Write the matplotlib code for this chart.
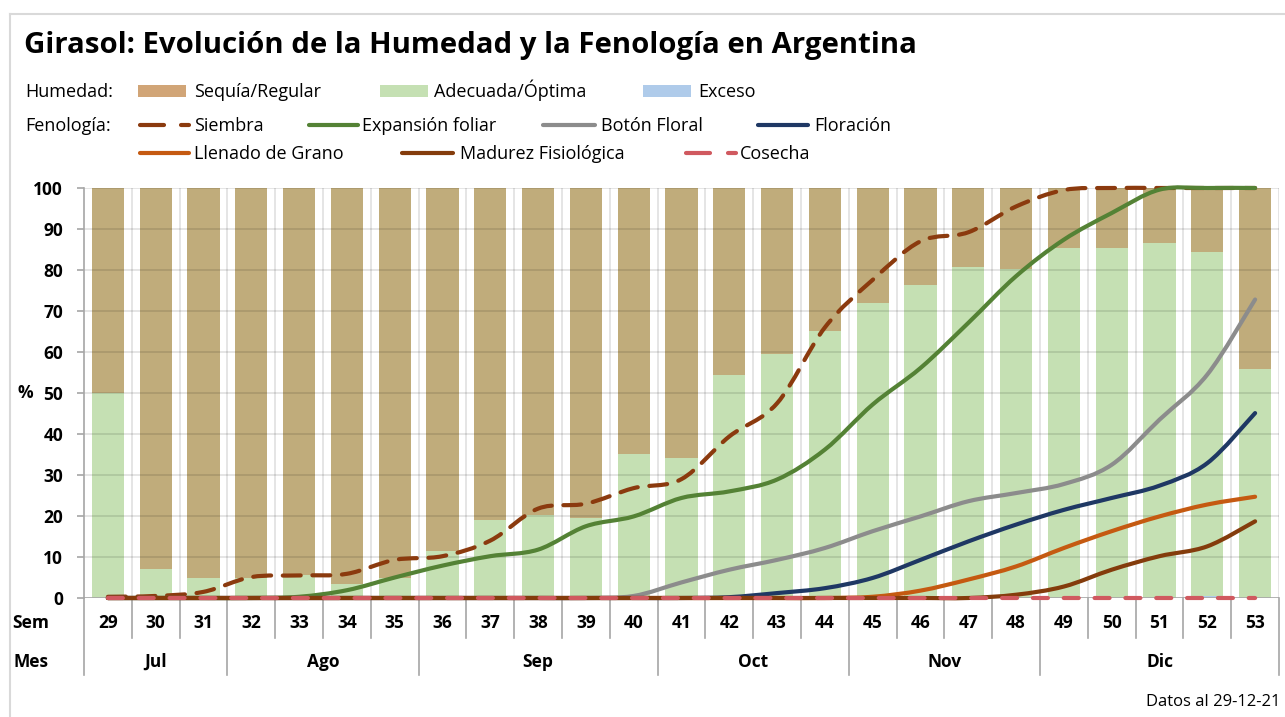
import matplotlib
matplotlib.use("Agg")
import matplotlib.pyplot as plt
from matplotlib.path import Path
from matplotlib.patches import PathPatch, Rectangle
from matplotlib.lines import Line2D
import numpy as np

# ---------------- DATA ----------------
weeks = [29, 30, 31, 32, 33, 34, 35, 36, 37, 38, 39, 40, 41, 42, 43, 44, 45, 46, 47, 48, 49, 50, 51, 52, 53]
months = ["Jul", "Ago", "Sep", "Oct", "Nov", "Dic"]
month_weeks = [3, 4, 5, 4, 4, 5]

exceso = [0, 0, 0, 0, 0, 0, 0, 0, 0, 0, 0, 0, 0, 0, 0, 0, 0, 0, 0, 0, 0, 0, 0, 0.4, 0]
adecuada = [50, 7, 5, 5, 5.7, 3.4, 4.8, 11.4, 19.1, 20.3, 19.5, 35.2, 34.1, 54.5, 59.5, 65.2,
            72, 76.3, 80.7, 80.2, 85.3, 85.3, 86.7, 84.0, 55.9]
sequia = [100 - a - e for a, e in zip(adecuada, exceso)]

siembra = [0.3, 0.5, 1.5, 5.1, 5.5, 5.9, 9.3, 10.2, 14.0, 21.8, 23.0, 26.8, 29.0, 39.4, 47.5, 66.0,
           77.6, 87.0, 89.2, 95.5, 99.5, 100, 100, 100, 100]
expansion = [0, 0, 0, 0, 0.3, 1.9, 5.0, 7.9, 10.2, 11.8, 17.5, 19.9, 24.4, 26.0, 28.9, 36.2,
             47.2, 56.1, 67.1, 78.5, 87.4, 93.9, 99.6, 100, 100]
boton = [0, 0, 0, 0, 0, 0, 0, 0, 0, 0, 0, 0.5, 3.8, 6.9, 9.3, 12.2,
         16.3, 19.9, 23.6, 25.6, 27.8, 32.5, 43.5, 54.5, 72.8]
floracion = [0, 0, 0, 0, 0, 0, 0, 0, 0, 0, 0, 0, 0, 0.2, 1.2, 2.4,
             4.9, 9.3, 13.8, 17.9, 21.5, 24.4, 27.4, 32.9, 45.1]
llenado = [0, 0, 0, 0, 0, 0, 0, 0, 0, 0, 0, 0, 0, 0, 0, 0,
           0.3, 1.8, 4.5, 7.7, 12.2, 16.3, 19.9, 22.8, 24.7]
madurez = [0, 0, 0, 0, 0, 0, 0, 0, 0, 0, 0, 0, 0, 0, 0, 0,
           0, 0, 0, 0.8, 2.8, 6.9, 10.2, 12.6, 18.7]
cosecha = [0] * 25

yticks = [0, 10, 20, 30, 40, 50, 60, 70, 80, 90, 100]

# ---------------- STYLE ----------------
FONT = "Open Sans"
plt.rcParams["font.family"] = [FONT, "DejaVu Sans"]
W, H = 1285, 717
C_SEQ = "#C0AC7B"
C_SEQ_LEG = "#D1A577"
C_ADE = "#C5E0B3"
C_EXC = "#AFCBEA"
C_SIE = "#8B3A0E"
C_EXP = "#548235"
C_BOT = "#8C8C8C"
C_FLO = "#1F3864"
C_LLE = "#C55A11"
C_MAD = "#843C0C"
C_COS = "#D0595F"
LW = 3.0
TFS = 12.5   # table / tick font size

fig = plt.figure(figsize=(W / 100, H / 100), dpi=100)

def fx(px):
    return px / W

def fy(py):
    return 1 - py / H

x0, x1, ytop, ybot = 84, 1279, 188, 598
ax = fig.add_axes([fx(x0), fy(ybot), fx(x1) - fx(x0), fy(ytop) - fy(ybot)])
n = len(weeks)
x = np.arange(n)

# bars
bw = 0.67
ax.bar(x, exceso, bw, color=C_EXC, zorder=1)
ax.bar(x, adecuada, bw, bottom=exceso, color=C_ADE, zorder=1)
ax.bar(x, sequia, bw, bottom=[a + e for a, e in zip(adecuada, exceso)], color=C_SEQ, zorder=1)

ax.set_xlim(-0.5, n - 0.5)
ax.set_ylim(0, 100)

# gridlines on top of bars (translucent)
for yv in yticks[1:]:
    ax.axhline(yv, color=(0, 0, 0, 0.12), lw=1.2, zorder=2)
for b in np.arange(-0.5, n, 1.0)[1:]:
    ax.axvline(b, color=(0, 0, 0, 0.12), lw=1.2, zorder=2)

# smooth lines (Excel-like bezier)
def smooth_path(xs, ys):
    pts = np.column_stack([xs, ys]).astype(float)
    verts = [tuple(pts[0])]
    codes = [Path.MOVETO]
    m = len(pts)
    for i in range(m - 1):
        p0 = pts[i - 1] if i > 0 else pts[i]
        p1 = pts[i]
        p2 = pts[i + 1]
        p3 = pts[i + 2] if i + 2 < m else pts[i + 1]
        c1 = p1 + (p2 - p0) / 6.0
        c2 = p2 - (p3 - p1) / 6.0
        verts += [tuple(c1), tuple(c2), tuple(p2)]
        codes += [Path.CURVE4] * 3
    return Path(verts, codes)

series = [
    (siembra, C_SIE, (0, (4.3, 2.8))),
    (expansion, C_EXP, "solid"),
    (boton, C_BOT, "solid"),
    (floracion, C_FLO, "solid"),
    (llenado, C_LLE, "solid"),
    (madurez, C_MAD, "solid"),
    (cosecha, C_COS, (0, (3.6, 3.8))),
]
for k, (vals, col, ls) in enumerate(series):
    pp = PathPatch(smooth_path(x, vals), fill=False, edgecolor=col, lw=LW,
                   linestyle=ls, capstyle="round", joinstyle="round", zorder=3 + k,
                   clip_on=False)
    ax.add_patch(pp)

# axes styling
for s in ["top", "right", "bottom"]:
    ax.spines[s].set_visible(False)
ax.spines["left"].set_color("#A6A6A6")
ax.spines["left"].set_linewidth(1.2)
ax.axhline(0, color="#A6A6A6", lw=1.2, zorder=2.5)
ax.set_yticks(yticks)
ax.set_yticklabels([str(v) for v in yticks], fontsize=TFS, fontweight="bold")
ax.tick_params(axis="y", length=5, color="#A6A6A6", width=1.2, pad=10)
ax.set_xticks([])
ax.set_facecolor("white")

# table under axis
ah = ybot - ytop
def ay(py):
    return (ybot - py) / ah

tr = ax.get_xaxis_transform()
month_bounds = [-0.5]
acc = -0.5
for mw in month_weeks:
    acc += mw
    month_bounds.append(acc)
for b in np.arange(-0.5, n, 1.0):
    yend = 675 if any(abs(b - mb) < 1e-6 for mb in month_bounds) else 638
    ax.add_line(Line2D([b, b], [0, ay(yend)], transform=tr, color="#A6A6A6", lw=1.2, clip_on=False))

for i, w in enumerate(weeks):
    ax.text(i, ay(623), str(w), transform=tr, ha="center", va="center", fontsize=TFS,
            fontweight="bold")
start = -0.5
for mname, mw in zip(months, month_weeks):
    ax.text(start + mw / 2, ay(662), mname, transform=tr, ha="center", va="center",
            fontsize=TFS, fontweight="bold")
    start += mw

fig.text(fx(31), fy(623), "Sem", ha="center", va="center", fontsize=TFS, fontweight="bold")
fig.text(fx(31), fy(662), "Mes", ha="center", va="center", fontsize=TFS, fontweight="bold")
fig.text(fx(25), fy(393), "%", ha="center", va="center", fontsize=TFS, fontweight="bold")

# title
fig.text(fx(24), fy(45), "Girasol: Evolución de la Humedad y la Fenología en Argentina",
         ha="left", va="center", fontsize=21.2, fontweight="bold")

# legend
LFS = 13
BOFF = 6  # baseline offset (px below row centre)

def ltext(px, py, label):
    fig.text(fx(px), fy(py + BOFF), label, ha="left", va="baseline", fontsize=LFS)

ltext(25, 91, "Humedad:")
ltext(25, 125, "Fenología:")

def swatch(px, py, col, label, tx):
    fig.add_artist(Rectangle((fx(px), fy(py + 6)), fx(48), 12 / H, transform=fig.transFigure,
                             color=col, lw=0))
    ltext(tx, py, label)

swatch(138, 91, C_SEQ_LEG, "Sequía/Regular", 194)
swatch(380, 91, C_ADE, "Adecuada/Óptima", 434)
swatch(643, 91, C_EXC, "Exceso", 698)

def legline(pa, pb, py, col, label, tx, dashed=False):
    if dashed:
        segs = [(pa, pa + 24), (pb - 8, pb)]
        for sa, sb in segs:
            fig.add_artist(Line2D([fx(sa), fx(sb)], [fy(py), fy(py)], transform=fig.transFigure,
                                  color=col, lw=LW, solid_capstyle="round"))
    else:
        fig.add_artist(Line2D([fx(pa), fx(pb)], [fy(py), fy(py)], transform=fig.transFigure,
                              color=col, lw=LW, solid_capstyle="round"))
    ltext(tx, py, label)

legline(140, 189, 125, C_SIE, "Siembra", 194, dashed=True)
legline(309, 358, 125, C_EXP, "Expansión foliar", 362)
legline(543, 595, 125, C_BOT, "Botón Floral", 601)
legline(758, 808, 125, C_FLO, "Floración", 814)
legline(140, 189, 153, C_LLE, "Llenado de Grano", 194)
legline(402, 453, 153, C_MAD, "Madurez Fisiológica", 460)
legline(686, 736, 153, C_COS, "Cosecha", 740, dashed=True)

# footer
fig.text(fx(1280), fy(702), "Datos al 29-12-21", ha="right", va="center", fontsize=12)

# outer frame
fig.add_artist(Line2D([fx(10), fx(10)], [fy(14), fy(717)], transform=fig.transFigure,
                      color="#D9D9D9", lw=1.5))
fig.add_artist(Line2D([fx(10), fx(1285)], [fy(14), fy(14)], transform=fig.transFigure,
                      color="#D9D9D9", lw=1.5))

fig.savefig("out.png", dpi=100)
